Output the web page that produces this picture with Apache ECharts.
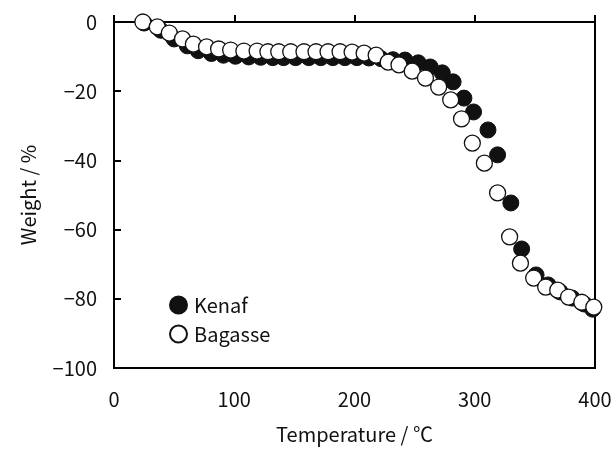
<!DOCTYPE html>
<html><head><meta charset="utf-8">
<script src="https://cdn.jsdelivr.net/npm/echarts@6/dist/echarts.min.js"></script>
<style>html,body{margin:0;padding:0;background:#fff}#c{width:616px;height:451px}</style>
</head><body><div id="c"></div>
<script>
const kenafT = [25, 39, 50, 61, 70, 81, 91, 101, 112, 122, 132, 141, 151, 162, 172, 182, 192, 202, 212, 222, 232, 242, 253, 263, 273, 282, 291, 299, 311, 319, 330, 339, 351, 361, 371, 381, 391, 398];
const kenafW = [-0.3, -2.4, -4.9, -6.9, -8.3, -9.1, -9.6, -9.9, -10.1, -10.2, -10.3, -10.3, -10.3, -10.3, -10.3, -10.3, -10.3, -10.3, -10.4, -10.6, -10.9, -11.0, -11.8, -13.0, -14.7, -17.3, -22.0, -26.0, -31.2, -38.4, -52.3, -65.6, -73.1, -76.0, -78.0, -79.8, -81.5, -83.0];
const bagasseT = [24, 36, 46, 57, 66, 77, 87, 97, 108, 119, 128, 137, 147, 158, 168, 178, 188, 198, 208, 218, 228, 237, 248, 259, 270, 280, 289, 298, 308, 319, 329, 338, 349, 359, 369, 378, 389, 399];
const bagasseW = [0, -1.4, -3.2, -4.9, -6.4, -7.2, -7.8, -8.1, -8.4, -8.4, -8.6, -8.6, -8.6, -8.6, -8.6, -8.6, -8.6, -8.7, -9.0, -9.6, -11.6, -12.4, -14.2, -16.2, -18.8, -22.5, -28.0, -35.0, -40.8, -49.4, -62.1, -69.7, -74.0, -76.6, -77.5, -79.5, -81.0, -82.4];
const seriesNames = ['Kenaf', 'Bagasse'];
const xName = 'Temperature / ℃';
const yName = 'Weight / %';

const pair = (a, b) => a.map((v, i) => [v, b[i]]);
const font = '"Noto Sans CJK JP", "DejaVu Sans", sans-serif';
const chart = echarts.init(document.getElementById('c'));
chart.setOption({
  animation: false,
  backgroundColor: '#fff',
  grid: { left: 114, right: 21, top: 22, bottom: 83, show: true, borderColor: '#000', borderWidth: 2 },
  legend: {
    orient: 'vertical', left: 164, top: 290, itemGap: 9, itemWidth: 17, itemHeight: 17,
    textStyle: { fontFamily: font, fontSize: 20, color: '#111', padding: [0, 0, 0, 2] },
    data: seriesNames.map(n => ({ name: n, icon: 'circle' }))
  },
  xAxis: {
    type: 'value', min: 0, max: 400, interval: 100,
    name: xName, nameLocation: 'middle', nameGap: 56,
    nameTextStyle: { fontFamily: font, fontSize: 20, color: '#111' },
    axisLine: { show: true, lineStyle: { color: '#000', width: 2 } },
    axisTick: { show: true, inside: true, length: 7, lineStyle: { color: '#000', width: 2 } },
    axisLabel: { fontFamily: font, fontSize: 20, color: '#111', margin: 21 },
    splitLine: { show: false }
  },
  yAxis: {
    type: 'value', min: -100, max: 0, interval: 20,
    name: yName, nameLocation: 'middle', nameGap: 76, nameRotate: 90,
    nameTextStyle: { fontFamily: font, fontSize: 20, color: '#111' },
    axisLine: { show: true, lineStyle: { color: '#000', width: 2 } },
    axisTick: { show: true, inside: true, length: 7, lineStyle: { color: '#000', width: 2 } },
    axisLabel: { fontFamily: font, fontSize: 20, color: '#111', margin: 17,
      formatter: v => String(v).replace('-', '\u2212') },
    splitLine: { show: false }
  },
  series: [
    { name: seriesNames[0], type: 'scatter', symbol: 'circle', symbolSize: 16,
      itemStyle: { color: '#111', borderColor: '#111', borderWidth: 1, opacity: 1 },
      data: pair(kenafT, kenafW) },
    { name: seriesNames[1], type: 'scatter', symbol: 'circle', symbolSize: 16,
      itemStyle: { color: '#fff', borderColor: '#111', borderWidth: 1.3, opacity: 1 },
      data: pair(bagasseT, bagasseW) }
  ]
});
</script></body></html>
